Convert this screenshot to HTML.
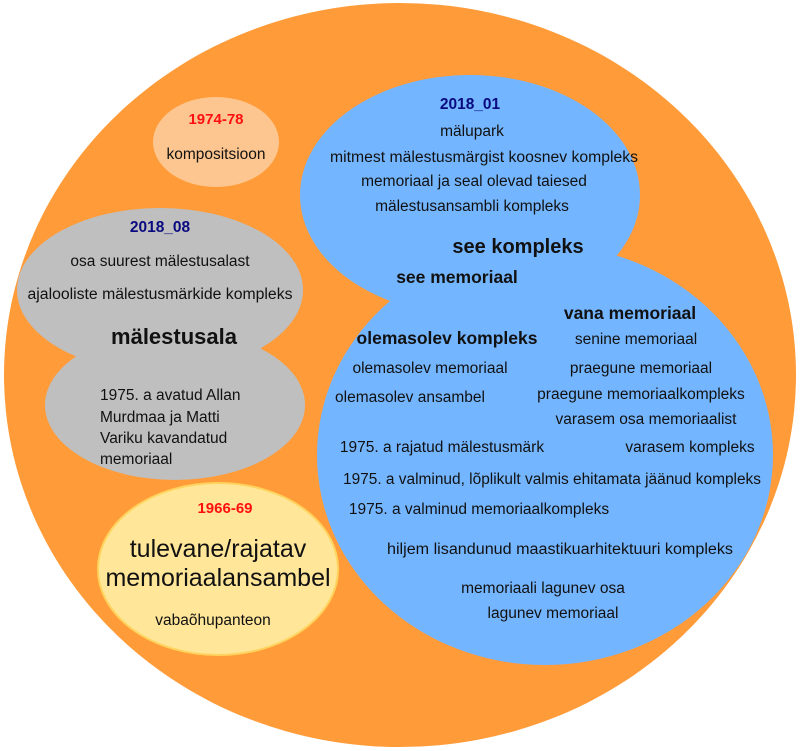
<!DOCTYPE html>
<html><head><meta charset="utf-8"><style>
html,body{margin:0;padding:0;background:#fff;}
svg{display:block;}
text{font-family:"Liberation Sans",sans-serif;fill:#111;}
.s{font-size:15.5px;}
.b{font-weight:bold;}
</style></head><body>
<svg width="800" height="751" viewBox="0 0 800 751" xmlns="http://www.w3.org/2000/svg">
<ellipse cx="400" cy="375" rx="396" ry="372" fill="#FF9B38"/>
<ellipse cx="216" cy="142" rx="63" ry="45" fill="#FDC690"/>
<ellipse cx="160" cy="290" rx="143" ry="82" fill="#BFBFBF"/>
<ellipse cx="175" cy="405" rx="130" ry="75" fill="#BFBFBF"/>
<ellipse cx="218" cy="569" rx="120" ry="86" fill="#FFE699" stroke="#FFD45E" stroke-width="2"/>
<ellipse cx="470" cy="195" rx="170" ry="120" fill="#74B5FF"/>
<ellipse cx="545" cy="455" rx="228" ry="210" fill="#74B5FF"/>

<text x="216" y="124" text-anchor="middle" class="b" style="fill:#FF1010;font-size:15px">1974-78</text>
<text x="216" y="159" text-anchor="middle" class="s">kompositsioon</text>

<text x="160" y="232" text-anchor="middle" class="b" style="fill:#0A0A80;font-size:15.5px">2018_08</text>
<text x="160" y="266" text-anchor="middle" class="s">osa suurest mälestusalast</text>
<text x="160" y="299" text-anchor="middle" class="s" textLength="265" lengthAdjust="spacingAndGlyphs">ajalooliste mälestusmärkide kompleks</text>
<text x="174" y="344" text-anchor="middle" class="b" style="font-size:22px">mälestusala</text>
<text x="100" y="400" class="s">1975. a avatud Allan</text>
<text x="100" y="422" class="s">Murdmaa ja Matti</text>
<text x="100" y="443" class="s">Variku kavandatud</text>
<text x="100" y="464" class="s">memoriaal</text>

<text x="225" y="513" text-anchor="middle" class="b" style="fill:#FF1010;font-size:15px">1966-69</text>
<text x="218" y="557" text-anchor="middle" style="font-size:25px">tulevane/rajatav</text>
<text x="218" y="586" text-anchor="middle" style="font-size:25px">memoriaalansambel</text>
<text x="213" y="625" text-anchor="middle" class="s">vabaõhupanteon</text>

<text x="470" y="109" text-anchor="middle" class="b" style="fill:#0A0A80;font-size:15.5px">2018_01</text>
<text x="472" y="136" text-anchor="middle" class="s">mälupark</text>
<text x="484" y="162" text-anchor="middle" class="s" textLength="308" lengthAdjust="spacingAndGlyphs">mitmest mälestusmärgist koosnev kompleks</text>
<text x="474" y="186" text-anchor="middle" class="s">memoriaal ja seal olevad taiesed</text>
<text x="472" y="211" text-anchor="middle" class="s">mälestusansambli kompleks</text>
<text x="518" y="253" text-anchor="middle" class="b" style="font-size:20px">see kompleks</text>
<text x="457" y="283" text-anchor="middle" class="b" style="font-size:17.5px">see memoriaal</text>
<text x="630" y="319" text-anchor="middle" class="b" style="font-size:17.5px">vana memoriaal</text>
<text x="447" y="344" text-anchor="middle" class="b" style="font-size:17.5px">olemasolev kompleks</text>
<text x="636" y="344" text-anchor="middle" class="s">senine memoriaal</text>
<text x="430" y="373" text-anchor="middle" class="s">olemasolev memoriaal</text>
<text x="641" y="373" text-anchor="middle" class="s">praegune memoriaal</text>
<text x="410" y="402" text-anchor="middle" class="s">olemasolev ansambel</text>
<text x="641" y="399" text-anchor="middle" class="s">praegune memoriaalkompleks</text>
<text x="646" y="424" text-anchor="middle" class="s">varasem osa memoriaalist</text>
<text x="442" y="452" text-anchor="middle" class="s">1975. a rajatud mälestusmärk</text>
<text x="690" y="452" text-anchor="middle" class="s">varasem kompleks</text>
<text x="552" y="484" text-anchor="middle" class="s" textLength="418" lengthAdjust="spacingAndGlyphs">1975. a valminud, lõplikult valmis ehitamata jäänud kompleks</text>
<text x="479" y="514" text-anchor="middle" class="s">1975. a valminud memoriaalkompleks</text>
<text x="560" y="554" text-anchor="middle" class="s" textLength="346" lengthAdjust="spacingAndGlyphs">hiljem lisandunud maastikuarhitektuuri kompleks</text>
<text x="543" y="593" text-anchor="middle" class="s">memoriaali lagunev osa</text>
<text x="553" y="618" text-anchor="middle" class="s">lagunev memoriaal</text>
</svg>
</body></html>
